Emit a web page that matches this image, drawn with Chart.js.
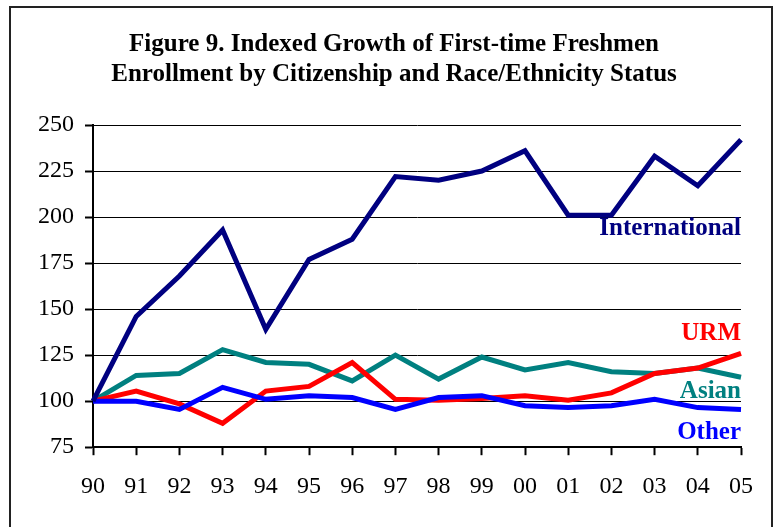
<!DOCTYPE html>
<html>
<head>
<meta charset="utf-8">
<script src="https://cdn.jsdelivr.net/npm/chart.js@4"></script>
<style>
  body { margin: 0; background: #fff; }
</style>
</head>
<body>
<canvas id="growthChart" width="777" height="527"></canvas>
<script>
var years = ['90', '91', '92', '93', '94', '95', '96', '97', '98', '99', '00', '01', '02', '03', '04', '05'];
var international = [100, 146, 168, 193, 139, 177, 188, 222, 220, 225, 236, 201, 201, 233, 217, 242];
var asian = [100, 114, 115, 128, 121, 120, 111, 125, 112, 124, 117, 121, 116, 115, 118, 113];
var urm = [100, 105.5, 98.5, 88, 105.5, 108, 121, 101, 100.5, 101.5, 103, 100.5, 104.5, 115, 118, 126];
var other = [100, 100, 95.5, 107.5, 101, 103, 102, 95.5, 102, 103, 97.5, 96.5, 97.5, 101, 96.5, 95.5];

var titleLines = ['Figure 9. Indexed Growth of First-time Freshmen', 'Enrollment by Citizenship and Race/Ethnicity Status'];

// series name labels drawn inside the plot, right-aligned at the last year
var seriesLabels = [
    { text: 'International', color: '#000080', y: 194 },
    { text: 'URM', color: '#FF0000', y: 137 },
    { text: 'Asian', color: '#008080', y: 105 },
    { text: 'Other', color: '#0000FF', y: 83 }
];

var serif = "'Liberation Serif', 'Times New Roman', serif";

var framePlugin = {
    id: 'frame',
    beforeDraw: function (chart) {
        var c = chart.ctx;
        c.save();
        c.fillStyle = '#fff';
        c.fillRect(0, 0, chart.width, chart.height);
        c.strokeStyle = '#222';
        c.lineWidth = 2;
        c.beginPath();
        c.moveTo(10, 530);
        c.lineTo(10, 7);
        c.lineTo(772, 7);
        c.lineTo(772, 530);
        c.stroke();
        // title, centred on the frame
        c.fillStyle = '#000';
        c.font = 'bold 25px ' + serif;
        c.textAlign = 'center';
        c.textBaseline = 'middle';
        c.fillText(titleLines[0], 394, 45);
        c.fillText(titleLines[1], 394, 75);
        c.restore();
    },
    afterDatasetsDraw: function (chart) {
        var c = chart.ctx;
        var xs = chart.scales.x, ys = chart.scales.y;
        c.save();
        c.font = 'bold 25px ' + serif;
        c.textAlign = 'right';
        c.textBaseline = 'middle';
        seriesLabels.forEach(function (l) {
            c.fillStyle = l.color;
            c.fillText(l.text, xs.getPixelForValue(years.length - 1), ys.getPixelForValue(l.y));
        });
        c.restore();
    }
};

var ctx = document.getElementById('growthChart').getContext('2d');
var growthChart = new Chart(ctx, {
    type: 'line',
    data: {
        labels: years,
        datasets: [
            { label: 'International', data: international, borderColor: '#000080' },
            { label: 'Other', data: other, borderColor: '#0000FF' },
            { label: 'URM', data: urm, borderColor: '#FF0000' },
            { label: 'Asian', data: asian, borderColor: '#008080' }
        ]
    },
    options: {
        responsive: false,
        animation: false,
        datasets: {
            line: { borderWidth: 5, pointRadius: 0, tension: 0, fill: false }
        },
        layout: {
            padding: { left: 0, right: 36, top: 125, bottom: 9 }
        },
        plugins: {
            legend: { display: false },
            tooltip: { enabled: false },
            title: { display: false }
        },
        scales: {
            x: {
                offset: false,
                grid: { drawOnChartArea: false, drawTicks: true, tickLength: 8, color: '#000', tickWidth: 2 },
                border: { color: '#000', width: 2 },
                ticks: { color: '#000', padding: 17, maxRotation: 0, font: { family: serif, size: 24 } }
            },
            y: {
                min: 75,
                max: 250,
                afterFit: function (scale) { scale.width = 93; },
                ticks: { stepSize: 25, color: '#000', padding: 11, font: { family: serif, size: 24 } },
                grid: { color: '#000', lineWidth: 1, tickLength: 8, tickWidth: 2 },
                border: { color: '#000', width: 2 }
            }
        }
    },
    plugins: [framePlugin]
});
</script>
</body>
</html>
